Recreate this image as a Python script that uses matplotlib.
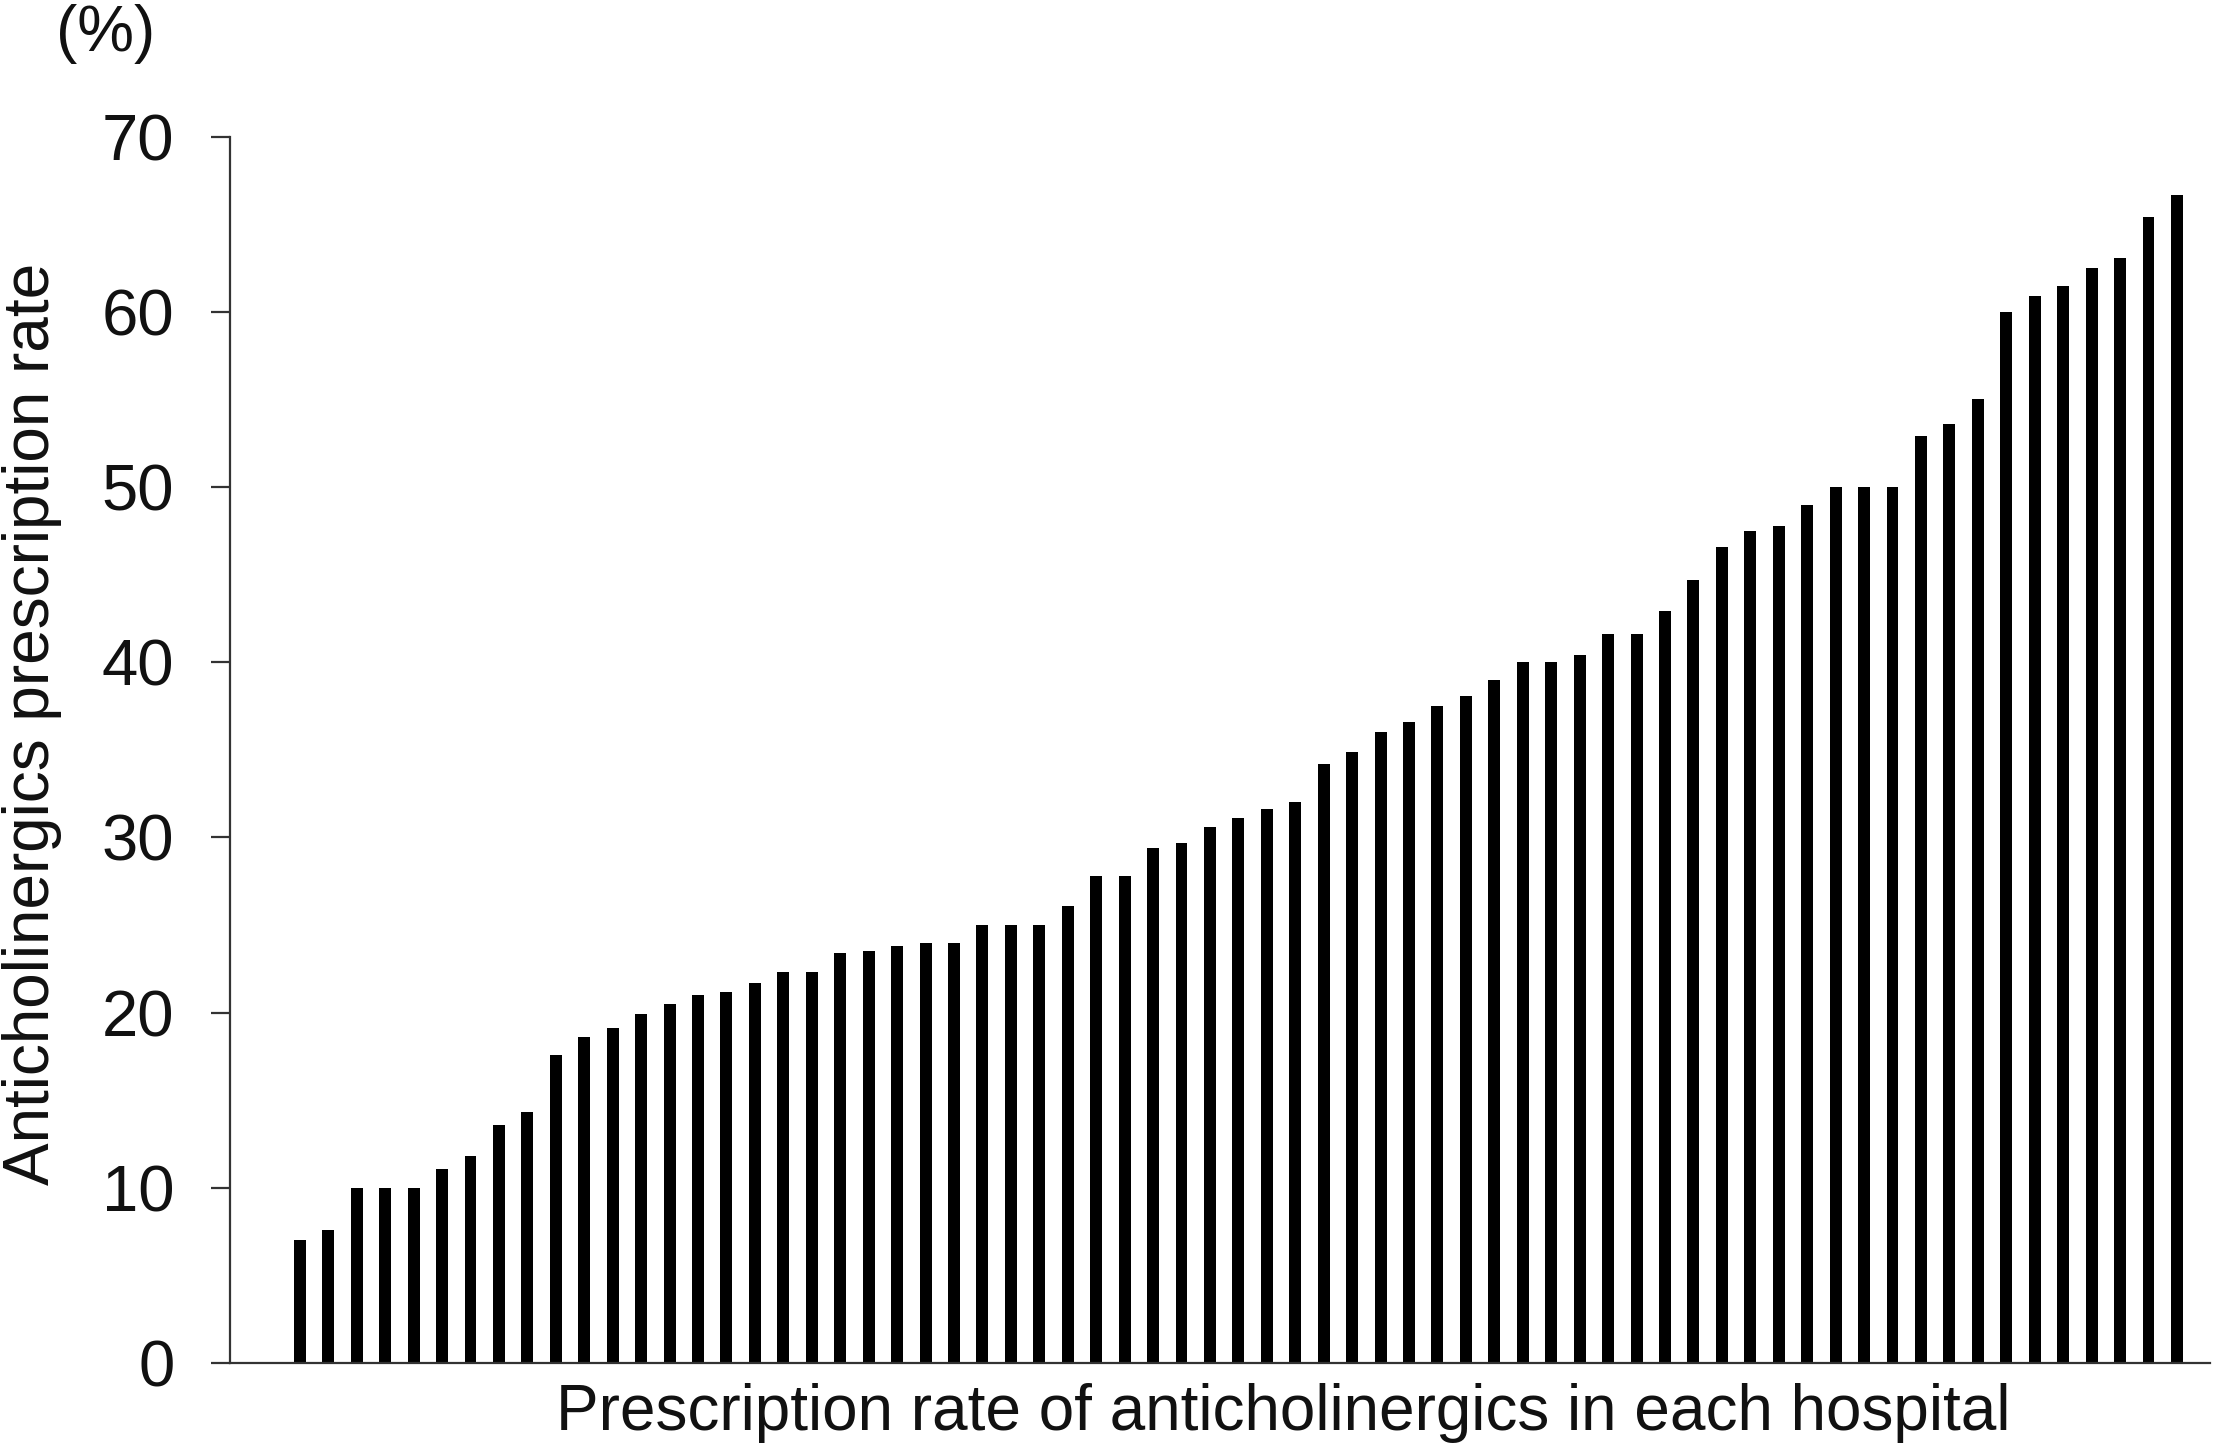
import numpy as np
import matplotlib.pyplot as plt

plt.rcParams['font.family'] = ['Liberation Sans', 'DejaVu Sans']

# anticholinergic prescription rate (%) for each hospital, sorted ascending
rates = [7.0, 7.6, 10.0, 10.0, 10.0, 11.1, 11.8, 13.6, 14.3, 17.6,
         18.6, 19.1, 19.9, 20.5, 21.0, 21.2, 21.7, 22.3, 22.3, 23.4,
         23.5, 23.8, 24.0, 24.0, 25.0, 25.0, 25.0, 26.1, 27.8, 27.8,
         29.4, 29.7, 30.6, 31.1, 31.6, 32.0, 34.2, 34.9, 36.0, 36.6,
         37.5, 38.1, 39.0, 40.0, 40.0, 40.4, 41.6, 41.6, 42.9, 44.7,
         46.6, 47.5, 47.8, 49.0, 50.0, 50.0, 50.0, 52.9, 53.6, 55.0,
         60.0, 60.9, 61.5, 62.5, 63.1, 65.4, 66.7]
yticks = [0, 10, 20, 30, 40, 50, 60, 70]

fig = plt.figure(figsize=(22.17, 14.56), dpi=100)
ax = fig.add_axes([0.1037, 0.0639, 0.8931, 0.8422])

x = np.arange(len(rates))
ax.bar(x, rates, width=0.42, color='black')

ax.set_xlim(-2.46, len(rates) - 1 + 1.16)
ax.set_ylim(0, 70)
ax.set_yticks(yticks)
ax.set_xticks([])

for s in ['top', 'right']:
    ax.spines[s].set_visible(False)
for s in ['left', 'bottom']:
    ax.spines[s].set_color('#333333')
    ax.spines[s].set_linewidth(1.6)

ax.tick_params(axis='y', direction='out', length=14, width=1.6, color='#333333',
               pad=26, labelsize=47, labelcolor='#111111')

fig.text(32 / 2217, 1 - 724 / 1456, 'Anticholinergics prescription rate',
         rotation=90, ha='center', va='center', fontsize=46, color='#111111')
fig.text(1283 / 2217, 1 - 1413 / 1456,
         'Prescription rate of anticholinergics in each hospital',
         ha='center', va='center', fontsize=46, color='#111111')
fig.text(106 / 2217, 1 - 34 / 1456, '(%)', ha='center', va='center',
         fontsize=46, color='#111111')

fig.savefig('out.png', dpi=100, facecolor='white')
